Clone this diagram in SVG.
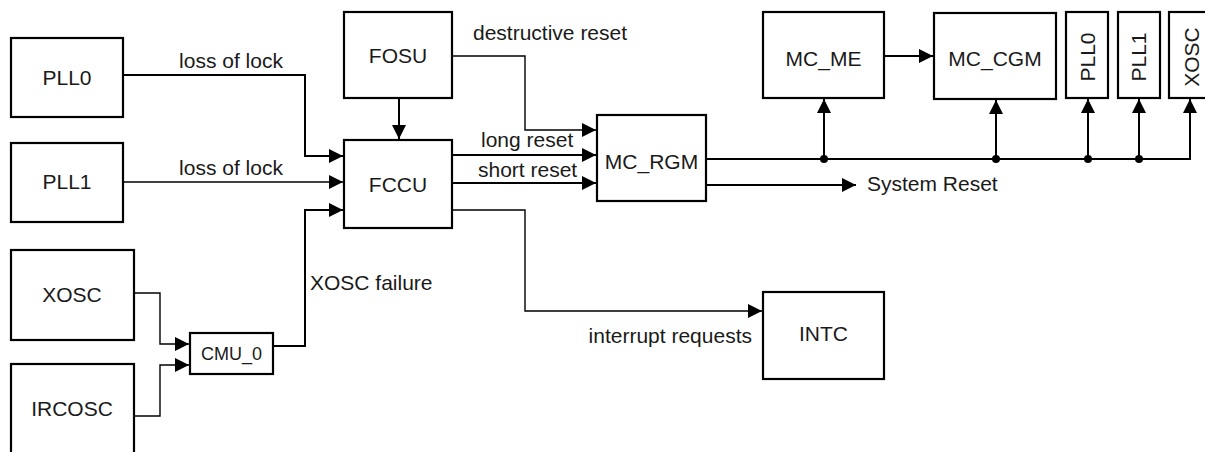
<svg xmlns="http://www.w3.org/2000/svg" width="1205" height="452" viewBox="0 0 1205 452">
<style>
.box{fill:#fff;stroke:#000;stroke-width:2.2}
.lbl{font-family:"Liberation Sans",Arial,sans-serif;font-size:21px;fill:#1a1a1a;text-anchor:middle}
.txt{font-family:"Liberation Sans",Arial,sans-serif;font-size:21px;fill:#1a1a1a}
.w{fill:none;stroke:#000;stroke-width:2}
.t{fill:none;stroke:#000;stroke-width:1.4}
.dot{fill:#000}
</style>
<defs>
<marker id="ah" markerUnits="userSpaceOnUse" viewBox="0 0 14 14" markerWidth="14" markerHeight="14" refX="14" refY="7" orient="auto">
<path d="M0,0 L14,7 L0,14 z" fill="#000"/>
</marker>
</defs>
<rect width="1205" height="452" fill="#fff"/>
<g id="connectors">
<path class="w" d="M123,75 H305 V156 H343" marker-end="url(#ah)"/>
<path class="t" d="M123,182 H343" marker-end="url(#ah)"/>
<path class="w" d="M273,346 H305 V210 H343" marker-end="url(#ah)"/>
<path class="w" d="M399,98 V139" marker-end="url(#ah)"/>
<path class="t" d="M452,56 H525 V130 H596" marker-end="url(#ah)"/>
<path class="w" d="M452,155 H596" marker-end="url(#ah)"/>
<path class="w" d="M452,183 H596" marker-end="url(#ah)"/>
<path class="t" d="M452,210 H525 V311 H762" marker-end="url(#ah)"/>
<path class="t" d="M134,293 H160 V344 H189" marker-end="url(#ah)"/>
<path class="t" d="M134,416 H160 V365 H189" marker-end="url(#ah)"/>
<path class="w" d="M706,159 H1190 V99" marker-end="url(#ah)"/>
<path class="w" d="M824,159 V99" marker-end="url(#ah)"/>
<path class="w" d="M996,159 V100" marker-end="url(#ah)"/>
<path class="w" d="M1088,159 V99" marker-end="url(#ah)"/>
<path class="w" d="M1139,159 V99" marker-end="url(#ah)"/>
<path class="w" d="M706,185 H856" marker-end="url(#ah)"/>
<path class="w" d="M884,56 H933" marker-end="url(#ah)"/>
<circle class="dot" cx="824" cy="159" r="4"/>
<circle class="dot" cx="996" cy="159" r="4"/>
<circle class="dot" cx="1088" cy="159" r="4"/>
<circle class="dot" cx="1139" cy="159" r="4"/>
<text class="txt" x="231" y="68" text-anchor="middle">loss of lock</text>
<text class="txt" x="231" y="175" text-anchor="middle">loss of lock</text>
<text class="txt" x="310" y="290">XOSC failure</text>
<text class="txt" x="473" y="40">destructive reset</text>
<text class="txt" x="481" y="147">long reset</text>
<text class="txt" x="478" y="177">short reset</text>
<text class="txt" x="867" y="191">System Reset</text>
<text class="txt" x="752" y="343" text-anchor="end">interrupt requests</text>
</g>
<g id="PLL0"><rect class="box" x="11" y="38" width="112" height="79"/><text class="lbl" x="67" y="85">PLL0</text></g>
<g id="PLL1"><rect class="box" x="11" y="143" width="112" height="79"/><text class="lbl" x="67" y="189">PLL1</text></g>
<g id="XOSC"><rect class="box" x="11" y="250" width="123" height="90"/><text class="lbl" x="72" y="302">XOSC</text></g>
<g id="IRCOSC"><rect class="box" x="11" y="364" width="123" height="92"/><text class="lbl" x="72" y="416">IRCOSC</text></g>
<g id="CMU_0"><rect class="box" x="190" y="333" width="83" height="41"/><text class="lbl" x="231.5" y="360" style="font-size:18px">CMU_0</text></g>
<g id="FOSU"><rect class="box" x="344" y="12" width="108" height="86"/><text class="lbl" x="398" y="63">FOSU</text></g>
<g id="FCCU"><rect class="box" x="344" y="140" width="108" height="88"/><text class="lbl" x="398" y="192">FCCU</text></g>
<g id="MC_RGM"><rect class="box" x="597" y="115" width="109" height="86"/><text class="lbl" x="651.5" y="169">MC_RGM</text></g>
<g id="MC_ME"><rect class="box" x="763" y="12" width="121" height="86"/><text class="lbl" x="823.5" y="66">MC_ME</text></g>
<g id="MC_CGM"><rect class="box" x="934" y="13" width="122" height="86"/><text class="lbl" x="995" y="66">MC_CGM</text></g>
<g id="PLL0_small"><rect class="box" x="1066" y="12" width="42" height="86"/><text class="lbl" transform="translate(1095,57) rotate(-90)">PLL0</text></g>
<g id="PLL1_small"><rect class="box" x="1118" y="12" width="42" height="86"/><text class="lbl" transform="translate(1146,57) rotate(-90)">PLL1</text></g>
<g id="XOSC_small"><rect class="box" x="1169" y="12" width="46" height="86"/><text class="lbl" transform="translate(1199,57) rotate(-90)">XOSC</text></g>
<g id="INTC"><rect class="box" x="763" y="292" width="121" height="87"/><text class="lbl" x="823.5" y="341">INTC</text></g>
</svg>
